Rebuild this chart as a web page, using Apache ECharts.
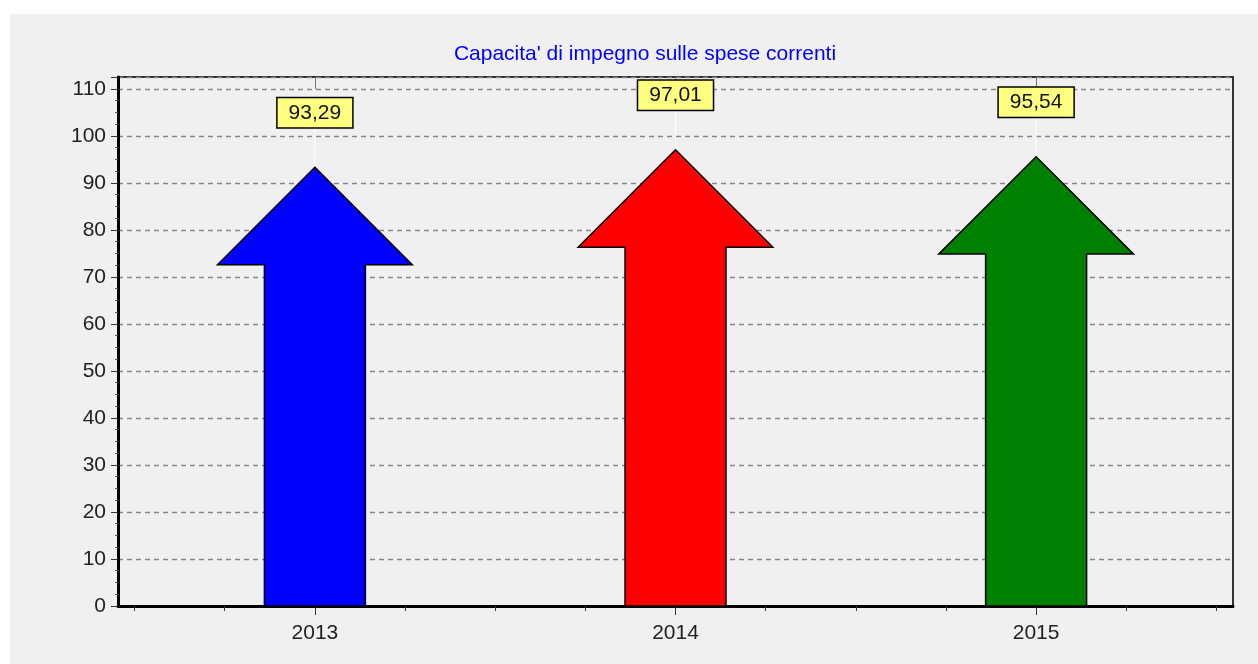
<!DOCTYPE html>
<html>
<head>
<meta charset="utf-8">
<script src="https://cdn.jsdelivr.net/npm/echarts@6.0.0/dist/echarts.min.js"></script>
<style>
  html, body { margin: 0; padding: 0; background: #fff; }
  #chart { position: absolute; left: 10px; top: 14px; width: 1248px; height: 650px; background: #f0f0f0; }
</style>
</head>
<body>
<div id="chart"></div>
<script>
// dati del grafico
const titolo = "Capacita' di impegno sulle spese correnti"
const anni = [2013, 2014, 2015]
const valori = [93.29, 97.01, 95.54]
const colori = ['#0000ff', '#ff0000', '#008000']

const font = '"Liberation Sans", Arial, sans-serif'
const chart = echarts.init(document.getElementById('chart'))

// freccia: punta sul valore, base sullo zero
function renderArrow(params, api) {
  const tip = api.coord([api.value(0), api.value(1)])
  const base = api.coord([api.value(0), 0])
  const year = api.size([1, 0])[0]
  const headHalf = year * 0.27
  const shaftHalf = year * 0.14
  const neck = tip[1] + headHalf
  const x = tip[0]
  const label = api.value(1).toFixed(2).replace('.', ',')
  return {
    type: 'group',
    children: [
      {
        type: 'line',
        shape: { x1: x, y1: tip[1] - 40, x2: x, y2: tip[1] },
        style: { stroke: '#ffffff', lineWidth: 1 },
      },
      {
        type: 'polygon',
        shape: {
          points: [
            [x, tip[1]],
            [x + headHalf, neck],
            [x + shaftHalf, neck],
            [x + shaftHalf, base[1]],
            [x - shaftHalf, base[1]],
            [x - shaftHalf, neck],
            [x - headHalf, neck],
          ],
        },
        style: { fill: colori[params.dataIndex], stroke: '#000', lineWidth: 1.5 },
      },
      {
        type: 'text',
        x: x,
        y: tip[1] - 40,
        style: {
          text: label,
          align: 'center',
          verticalAlign: 'bottom',
          font: '21px ' + font,
          fill: '#111',
          backgroundColor: '#ffff80',
          borderColor: '#000',
          borderWidth: 1.5,
          padding: [4, 11, 4, 11],
        },
      },
    ],
  }
}

const option = {
  animation: false,
  title: {
    text: titolo,
    left: 630,
    top: 25,
    textAlign: 'center',
    textStyle: { color: '#0000ff', fontSize: 21, fontWeight: 'normal', fontFamily: font },
  },
  grid: {
    left: 108,
    right: 25,
    top: 63,
    bottom: 58,
    show: true,
    borderColor: '#333',
    borderWidth: 2,
  },
  xAxis: [
    {
      type: 'value',
      min: 2012.454,
      max: 2015.546,
      splitNumber: 3,
      axisLine: { lineStyle: { color: '#000', width: 3 } },
      axisTick: { customValues: anni, length: 9, lineStyle: { color: '#333', width: 1 } },
      minorTick: { show: true, splitNumber: 4, length: 5, lineStyle: { color: '#333' } },
      splitLine: { show: false },
      axisLabel: {
        customValues: anni,
        margin: 17,
        fontSize: 21,
        color: '#222',
        fontFamily: font,
        formatter: (v) => String(Math.round(v)),
      },
    },
    {
      // tacche in alto
      type: 'value',
      position: 'top',
      min: 2012.454,
      max: 2015.546,
      splitNumber: 3,
      axisLine: { show: false },
      axisTick: { customValues: anni, inside: true, length: 12, lineStyle: { color: '#777' } },
      axisLabel: { show: false },
      splitLine: { show: false },
    },
  ],
  yAxis: {
    type: 'value',
    min: 0,
    max: 112.5,
    interval: 10,
    axisLine: { show: true, lineStyle: { color: '#000', width: 3 } },
    axisTick: { show: true, length: 7, lineStyle: { color: '#333' } },
    minorTick: { show: true, splitNumber: 4, length: 3, lineStyle: { color: '#555' } },
    splitLine: { lineStyle: { color: '#888', type: [5, 4], width: 1.3 } },
    axisLabel: {
      margin: 12,
      fontSize: 21,
      color: '#222',
      fontFamily: font,
      formatter: (v) => (v % 10 === 0 ? String(v) : ''),
    },
  },
  series: [
    {
      type: 'custom',
      clip: false,
      renderItem: renderArrow,
      data: anni.map((a, i) => [a, valori[i]]),
    },
  ],
}
chart.setOption(option)
</script>
</body>
</html>
